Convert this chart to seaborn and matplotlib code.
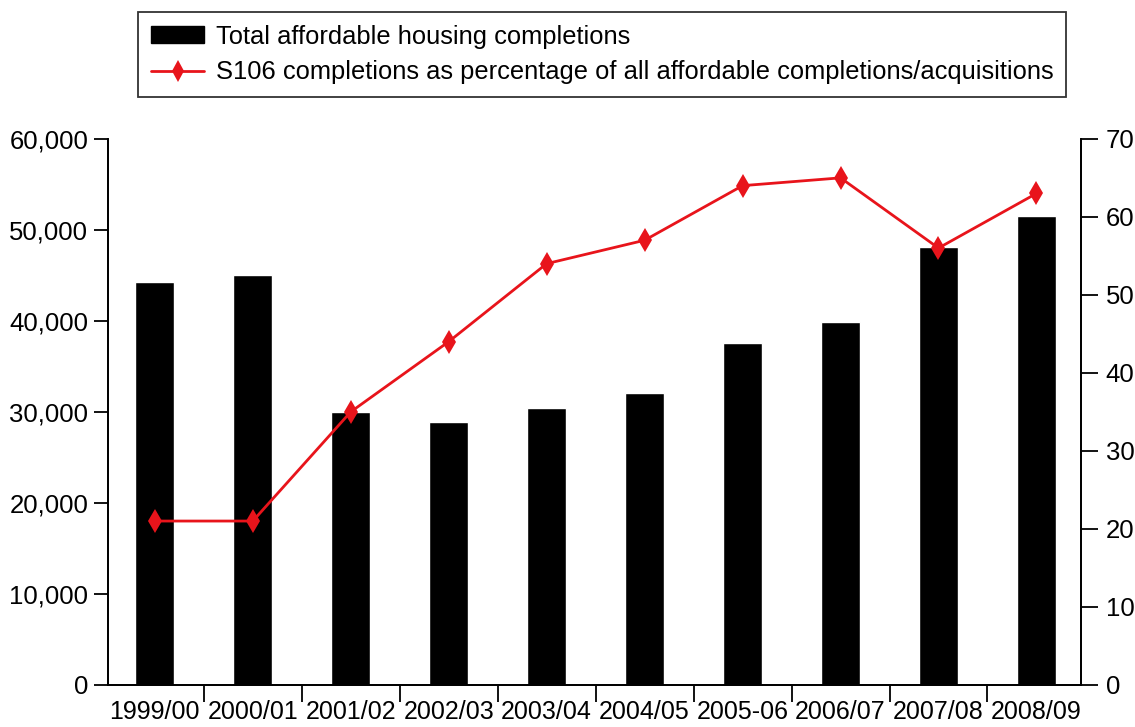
import numpy as np
import pandas as pd
import seaborn as sns
import matplotlib.pyplot as plt
from matplotlib.patches import Patch
from matplotlib.lines import Line2D

years = ['1999/00', '2000/01', '2001/02', '2002/03', '2003/04',
         '2004/05', '2005-06', '2006/07', '2007/08', '2008/09']
completions = [44300, 45000, 30000, 28900, 30400, 32100, 37600, 39900, 48100, 51500]
s106_pct = [21, 21, 35, 44, 54, 57, 64, 65, 56, 63]

sns.set_style('white')
plt.rcParams['font.family'] = ['Liberation Sans', 'DejaVu Sans']
plt.rcParams.update({
    'font.size': 18.5,
    'text.color': 'black',
    'xtick.color': 'black',
    'ytick.color': 'black',
})

df = pd.DataFrame({'year': years, 'total': completions, 'pct': s106_pct})
df['pos'] = np.arange(len(df))

fig = plt.figure(figsize=(11.35, 7.27), dpi=100)
ax = fig.add_axes([0.095, 0.058, 0.857, 0.751])

sns.barplot(data=df, x='year', y='total', color='black', saturation=1,
            width=0.4, ax=ax)

red = '#e8141b'
ax2 = ax.twinx()
sns.lineplot(data=df, x='pos', y='pct', color=red, marker='d',
             markersize=12, markeredgewidth=0, linewidth=2, ax=ax2)

ax.set_xlim(-0.48, 9.45)
ax.set_ylim(0, 60000)
ax2.set_ylim(0, 70)
ax.set_yticks(range(0, 60001, 10000))
ax.set_yticklabels([f'{v:,}' for v in range(0, 60001, 10000)])
ax2.set_yticks(range(0, 71, 10))

ax.set_xticks(df['pos'])
ax.set_xticklabels(years)
ax.set_xticks(np.arange(0.5, 9, 1), minor=True)
ax.tick_params(axis='x', which='major', length=0, pad=11, labelsize=18)
ax.tick_params(axis='x', which='minor', length=12, width=1.3, direction='out', bottom=True)
ax.tick_params(axis='y', length=10, width=1.3, direction='out', left=True, pad=4, labelsize=18.5)
ax2.tick_params(axis='y', length=12, width=1.3, direction='out', right=True, pad=6, labelsize=18.5)

for a in (ax, ax2):
    a.set_xlabel('')
    a.set_ylabel('')
    a.spines['top'].set_visible(False)
    for s in ('left', 'right', 'bottom'):
        a.spines[s].set_linewidth(1.3)
        a.spines[s].set_color('black')

handles = [Patch(facecolor='black', edgecolor='black'),
           Line2D([], [], color=red, marker='d', markersize=11,
                  markeredgewidth=0, linewidth=2)]
labels = ['Total affordable housing completions',
          'S106 completions as percentage of all affordable completions/acquisitions']
leg = fig.legend(handles, labels, loc='upper left', bbox_to_anchor=(0.1216, 0.9835),
                 borderaxespad=0, frameon=True, fancybox=False, edgecolor='black',
                 handlelength=2.1, handleheight=0.65, handletextpad=0.45,
                 borderpad=0.5, labelspacing=0.45, fontsize=18.4)
leg.get_frame().set_linewidth(1.3)

fig.savefig('out.png', dpi=100)
